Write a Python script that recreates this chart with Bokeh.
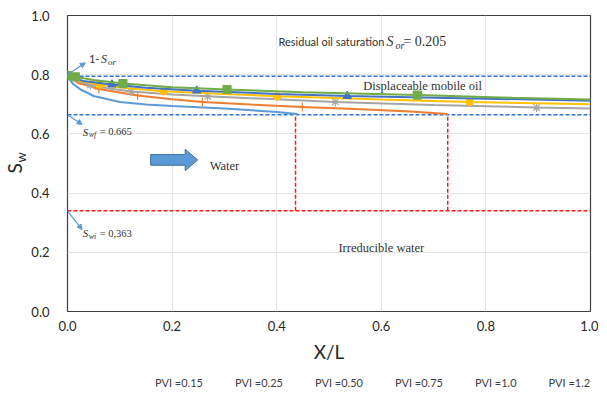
from bokeh.plotting import figure
from bokeh.layouts import column
from bokeh.models import (Legend, LegendItem, Title, Arrow, NormalHead, FixedTicker)
from bokeh.core.properties import value
from bokeh.embed import file_html
from bokeh.resources import INLINE

# ---------------- data ----------------
x_015 = [0, 0.01, 0.025, 0.05, 0.1, 0.15, 0.2, 0.3, 0.4, 0.44]
s_015 = [0.795, 0.77, 0.75, 0.728, 0.708, 0.699, 0.694, 0.686, 0.674, 0.667]

x_025 = [0, 0.02, 0.06, 0.134, 0.2, 0.258, 0.35, 0.449, 0.55, 0.656, 0.727]
s_025 = [0.795, 0.772, 0.752, 0.730, 0.717, 0.708, 0.699, 0.691, 0.684, 0.676, 0.667]
mx_025 = [0.06, 0.134, 0.258, 0.449]
ms_025 = [0.752, 0.730, 0.708, 0.691]

x_050 = [0, 0.02, 0.044, 0.08, 0.122, 0.2, 0.268, 0.4, 0.512, 0.7, 0.897, 1.0]
s_050 = [0.795, 0.778, 0.765, 0.753, 0.743, 0.733, 0.727, 0.717, 0.708, 0.698, 0.689, 0.686]
mx_050 = [0.044, 0.122, 0.268, 0.512, 0.897]
ms_050 = [0.765, 0.743, 0.727, 0.708, 0.689]

x_075 = [0, 0.02, 0.061, 0.12, 0.184, 0.3, 0.401, 0.6, 0.769, 1.0]
s_075 = [0.795, 0.781, 0.766, 0.753, 0.744, 0.735, 0.727, 0.716, 0.708, 0.700]
mx_075 = [0.061, 0.184, 0.401, 0.769]
ms_075 = [0.766, 0.744, 0.727, 0.708]

x_100 = [0, 0.03, 0.085, 0.15, 0.247, 0.4, 0.535, 0.8, 1.0]
s_100 = [0.795, 0.779, 0.767, 0.756, 0.746, 0.735, 0.728, 0.719, 0.712]
mx_100 = [0.085, 0.247, 0.535]
ms_100 = [0.767, 0.746, 0.728]

x_125 = [0, 0.015, 0.05, 0.106, 0.2, 0.305, 0.45, 0.669, 0.85, 1.0]
s_125 = [0.797, 0.793, 0.782, 0.770, 0.758, 0.750, 0.741, 0.731, 0.722, 0.716]
mx_125 = [0, 0.015, 0.106, 0.305, 0.669]
ms_125 = [0.797, 0.793, 0.770, 0.750, 0.731]

series_names = ["PVI =0.15", "PVI =0.25", "PVI =0.50", "PVI =0.75", "PVI =1.0", "PVI =1.25"]

s_or_line = 0.795      # 1 - Sor
s_wf = 0.665
s_wi_line = 0.34
front_x = [0.436, 0.727]

ticks = [0.0, 0.2, 0.4, 0.6, 0.8, 1.0]
tick_labels = ["0.0", "0.2", "0.4", "0.6", "0.8", "1.0"]

# ---------------- main figure ----------------
p = figure(frame_width=523, frame_height=296, x_range=(0, 1), y_range=(0, 1),
           output_backend="svg", toolbar_location=None,
           min_border_left=67, min_border_right=8, min_border_top=15, min_border_bottom=61)
p.background_fill_color = "white"
p.outline_line_color = "#404040"
p.outline_line_width = 1.2
p.grid.grid_line_color = "#e4e4e4"

for ax in (p.xaxis, p.yaxis):
    ax.ticker = FixedTicker(ticks=ticks)
    ax.major_label_overrides = {t: l for t, l in zip(ticks, tick_labels)}
    ax.major_tick_line_color = None
    ax.minor_tick_line_color = None
    ax.axis_line_color = None
    ax.major_label_text_font = "Lato"
    ax.major_label_text_font_size = "13px"
    ax.major_label_text_color = "#262626"
p.yaxis.major_label_standoff = 12
p.xaxis.major_label_standoff = 3
p.xaxis.axis_label = "X/L"
p.xaxis.axis_label_text_font = "Lato"
p.xaxis.axis_label_text_font_size = "19px"
p.xaxis.axis_label_text_font_style = "normal"
p.xaxis.axis_label_text_color = "#262626"
p.xaxis.axis_label_standoff = 6

# y axis label S_w as two titles in the left panel (w nearer the axis)
p.add_layout(Title(text="w", align="left", offset=149, text_font="Lato",
                   text_font_size="13px", text_font_style="normal",
                   text_color="#262626", standoff=0), "left")
p.add_layout(Title(text="S", align="left", offset=138, text_font="Lato",
                   text_font_size="19px", text_font_style="normal",
                   text_color="#262626", standoff=-30), "left")

# ---------------- reference lines ----------------
blue_d = "#2E75D6"
red_d = "#FF1A1A"
p.line([0, 1], [s_or_line, s_or_line], line_color=blue_d, line_width=1.5, line_dash="4 2")
p.line([0, 1], [s_wf, s_wf], line_color=blue_d, line_width=1.5, line_dash="4 2")
p.line([0, 1], [s_wi_line, s_wi_line], line_color=red_d, line_width=1.5, line_dash="4 2")
for fx in front_x:
    p.line([fx, fx], [s_wi_line, s_wf], line_color=red_d, line_width=1.5, line_dash="4 2")

# ---------------- curves ----------------
cols = ["#5B9BD5", "#ED7D31", "#A5A5A5", "#FFC000", "#4472C4", "#70AD47"]
series = [
    (x_015, s_015, None, None, None, 0),
    (x_025, s_025, mx_025, ms_025, "cross", 9),
    (x_050, s_050, mx_050, ms_050, "asterisk", 9),
    (x_075, s_075, mx_075, ms_075, "circle", 7),
    (x_100, s_100, mx_100, ms_100, "triangle", 8),
    (x_125, s_125, mx_125, ms_125, "square", 8),
]
for i, (xs, ss, mxs, mss, mk, sz) in enumerate(series):
    p.line(xs, ss, line_color=cols[i], line_width=2)
    if mk is not None:
        p.scatter(mxs, mss, marker=mk, size=sz, fill_color=cols[i], line_color=cols[i],
                  line_width=1.2)

# ---------------- annotations ----------------
serif = value("Liberation Serif")
sans = value("Lato")

def txt(x, y, t, size, font, style="normal", xo=0, yo=0, color="#333333", align="left"):
    p.text([x], [y], text=[t], text_font=font, text_font_size=f"{size}px",
           text_font_style=style, x_offset=xo, y_offset=yo, text_color=color,
           text_align=align, text_baseline="middle")

txt(0.4034, 0.912, "Residual oil saturation", 11, sans)
txt(0.4034, 0.912, "S", 14, serif, "italic", xo=108)
txt(0.4034, 0.912, "or", 10, serif, "italic", xo=117, yo=4)
txt(0.4034, 0.912, "= 0.205", 14, serif, xo=125)

txt(0.679, 0.762, "Displaceable mobile oil", 12.5, serif, align="center")
txt(0.30, 0.493, "Water", 12.5, serif, align="center")
txt(0.60, 0.213, "Irreducible water", 12.5, serif, align="center")

txt(0.041, 0.852, "1-", 11, sans)
txt(0.041, 0.852, "S", 12, serif, "italic", xo=12)
txt(0.041, 0.852, "or", 9, serif, "italic", xo=19, yo=3)

txt(0.029, 0.608, "S", 11, serif, "italic")
txt(0.029, 0.608, "wf", 8, serif, "italic", xo=6, yo=3)
txt(0.029, 0.608, "= 0.665", 10.5, serif, xo=17)

txt(0.029, 0.265, "S", 11, serif, "italic")
txt(0.029, 0.265, "wi", 8, serif, "italic", xo=6, yo=3)
txt(0.029, 0.265, "= 0,363", 10.5, serif, xo=17)

acol = "#5B9BD5"
for (xs, ys, xe, ye) in [(0.0, 0.80, 0.034, 0.84), (0.0, 0.665, 0.028, 0.632), (0.0, 0.34, 0.028, 0.277)]:
    p.add_layout(Arrow(end=NormalHead(size=5, fill_color=acol, line_color=acol),
                       x_start=xs, y_start=ys, x_end=xe, y_end=ye,
                       line_color=acol, line_width=1.2))

ax0, ax1, ahead, ayc, abody, ahh = 0.159, 0.249, 0.225, 0.512, 0.018, 0.036
p.patch([ax0, ahead, ahead, ax1, ahead, ahead, ax0],
        [ayc - abody, ayc - abody, ayc - ahh, ayc, ayc + ahh, ayc + abody, ayc + abody],
        fill_color="#5B9BD5", line_color="#41719C", line_width=1)

# ---------------- legend strip (separate small figure under the chart) ----------------
pl = figure(width=598, height=20, x_range=(0, 1), y_range=(0, 1),
            output_backend="svg", toolbar_location=None,
            x_axis_location=None, y_axis_location=None, min_border=0)
pl.grid.visible = False
pl.outline_line_color = None
items = []
for i, (xs, ss, mxs, mss, mk, sz) in enumerate(series):
    rs = [pl.line([], [], line_color=cols[i], line_width=2)]
    if mk is not None:
        rs.append(pl.scatter([], [], marker=mk, size=sz - 2, fill_color=cols[i],
                             line_color=cols[i], line_width=1))
    items.append(LegendItem(label=series_names[i], renderers=rs))
legend = Legend(items=items, orientation="horizontal", location=(70, 3),
                label_text_font="Lato", label_text_font_size="11px",
                label_text_color="#404040", glyph_width=16, glyph_height=11,
                label_height=11, label_standoff=2, spacing=14, padding=0, margin=0,
                border_line_color=None, background_fill_alpha=0)
pl.add_layout(legend, "center")

open("out.html", "w").write(file_html(column(p, pl, spacing=0), INLINE))
